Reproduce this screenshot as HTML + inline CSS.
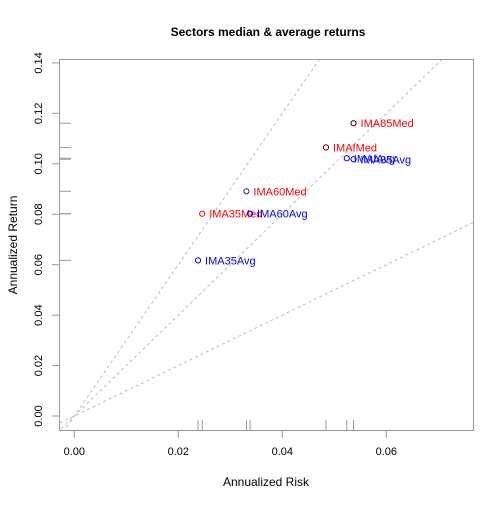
<!DOCTYPE html>
<html><head><meta charset="utf-8"><style>
body{margin:0;background:#fff}
svg{font-family:"Liberation Sans",Arial,sans-serif}
</style></head><body>
<svg id="c" width="504" height="504" xmlns="http://www.w3.org/2000/svg">
<rect x="0" y="0" width="504" height="504" fill="#fff"/>
<text x="268" y="36" text-anchor="middle" font-weight="bold" font-size="12">Sectors median &amp; average returns</text>
<text x="266" y="486" text-anchor="middle" font-size="12">Annualized Risk</text>
<text transform="translate(17,245) rotate(-90)" text-anchor="middle" font-size="12">Annualized Return</text>
<rect x="59.5" y="59.5" width="414" height="371" fill="none" stroke="#999"/>
<g id="g"></g>
</svg>
<script>
const names=["IMA35Med","IMA60Med","IMAfMed","IMA85Med","IMA35Avg","IMA60Avg","IMAfAvg","IMA85Avg"];
const risk=[0.0246,0.0331,0.0484,0.0537,0.0238,0.0338,0.0524,0.0537];
const ret=[0.0802,0.0891,0.1065,0.1161,0.0617,0.0802,0.1022,0.1018];
const colors=["red","red","red","red","blue","blue","blue","blue"];
const circ=["red","#333","#600","#400","blue","blue","blue","blue"];
const xTicks=[0,0.02,0.04,0.06];
const yTicks=[0,0.02,0.04,0.06,0.08,0.10,0.12,0.14];
const slopes=[1,2,3];
const X=v=>74.3+5200*v, Y=v=>416-2522*v;
const g=document.getElementById('g');
const NS="http://www.w3.org/2000/svg";
function mk(t,a){const e=document.createElementNS(NS,t);for(const k in a)e.setAttribute(k,a[k]);g.appendChild(e);return e;}
const cp=document.createElementNS(NS,'clipPath');cp.setAttribute('id','cl');
const cr=document.createElementNS(NS,'rect');cr.setAttribute('x',60);cr.setAttribute('y',60);cr.setAttribute('width',413);cr.setAttribute('height',370);cp.appendChild(cr);g.appendChild(cp);
slopes.forEach(s=>{
  const l=mk('line',{x1:X(-0.01),y1:Y(-0.01*s),x2:X(0.1),y2:Y(0.1*s),stroke:"#b4b4b4","stroke-width":"0.9","stroke-dasharray":"3,3","clip-path":"url(#cl)"});
  
  
});
xTicks.forEach(v=>{
  const t=mk('line',{x1:X(v),y1:431,x2:X(v),y2:438,stroke:"#999"});
  
  
  const tx=mk('text',{x:X(v),y:455,"text-anchor":"middle","font-size":"11"});tx.textContent=v.toFixed(2);
  
  
});
yTicks.forEach(v=>{
  const t=mk('line',{x1:52,y1:Y(v),x2:59,y2:Y(v),stroke:"#999"});
  
  
  const tx=mk('text',{transform:`translate(42,${Y(v)}) rotate(-90)`,"text-anchor":"middle","font-size":"11"});tx.textContent=v.toFixed(2);
  
  
});
names.forEach((n,i)=>{
  const r=mk('line',{x1:X(risk[i]),y1:420,x2:X(risk[i]),y2:430,stroke:"#999"});
  
  
  const r2=mk('line',{x1:60,y1:Y(ret[i]),x2:71,y2:Y(ret[i]),stroke:"#999"});
  
  
  const c=mk('circle',{cx:X(risk[i]),cy:Y(ret[i]),r:2.6,fill:"none",stroke:circ[i]});
  
  
  const t=mk('text',{x:X(risk[i])+7,y:Y(ret[i])+4,"font-size":"11",fill:colors[i]});t.textContent=n;
  
  
});
</script>
</body></html>
